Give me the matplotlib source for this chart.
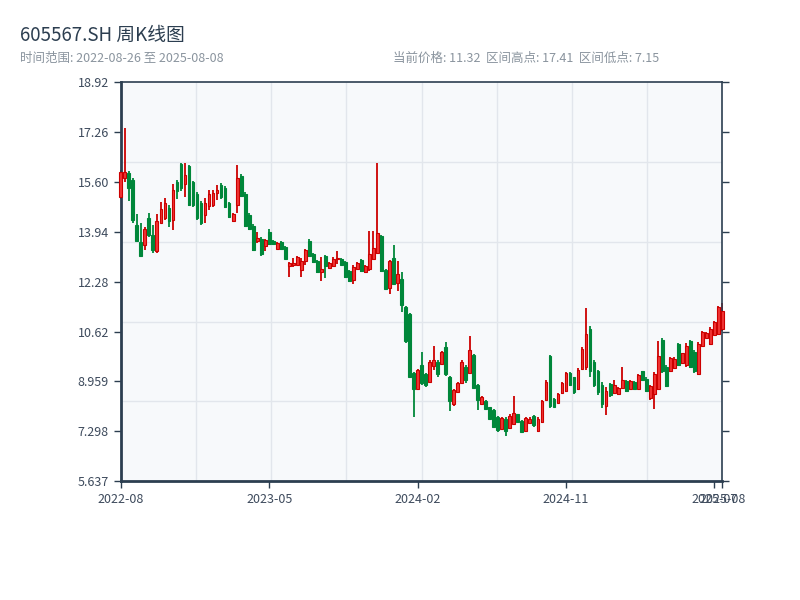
import numpy as np
import pandas as pd
import matplotlib
matplotlib.use("Agg")
import matplotlib.pyplot as plt

plt.rcParams["font.family"] = ["Noto Sans CJK SC", "DejaVu Sans"]

symbol = "605567.SH"

# weekly bars, Fridays; weeks with no trading (holidays) are left out
holiday_weeks = ["2022-10-07", "2023-01-27", "2023-10-06", "2024-02-16"]
dates = pd.date_range("2022-08-26", "2025-08-08", freq="W-FRI")
dates = dates[~dates.isin(pd.to_datetime(holiday_weeks))]

open_ = [15.10, 15.75, 15.89, 15.66, 14.16, 13.61, 13.50, 14.40, 13.83, 13.30,
         14.25, 14.40, 14.75, 14.35, 15.60, 16.20, 15.55, 16.15, 15.60, 15.20,
         14.90, 14.50, 14.80, 14.85, 15.25, 15.50, 15.40, 14.90, 14.30, 14.83,
         15.80, 15.20, 14.50, 14.15, 13.65, 13.70, 13.47, 13.95, 13.62, 13.38,
         13.60, 13.45, 12.80, 12.85, 12.85, 12.67, 12.97, 13.65, 13.20, 12.98,
         12.62, 13.15, 12.75, 12.80, 13.03, 13.05, 12.95, 12.65, 12.33, 12.72,
         13.00, 12.60, 12.69, 13.02, 13.23, 13.80, 12.68, 12.06, 13.08, 12.25,
         12.37, 11.45, 11.20, 9.25, 8.70, 9.50, 9.20, 8.95, 9.47, 9.60,
         9.55, 10.10, 9.10, 8.20, 8.60, 8.90, 9.45, 9.25, 9.85, 8.85,
         8.20, 8.32, 8.10, 8.00, 7.78, 7.38, 7.70, 7.40, 7.55, 7.86,
         7.65, 7.32, 7.58, 7.80, 7.30, 7.62, 8.35, 9.80, 8.38, 8.25,
         8.56, 8.65, 9.25, 9.10, 8.70, 9.36, 9.45, 10.70, 9.60, 9.30,
         8.85, 8.15, 8.88, 8.56, 8.55, 8.75, 8.98, 8.72, 8.95, 8.72,
         9.30, 9.05, 8.40, 8.55, 8.70, 10.35, 9.45, 9.30, 9.40, 10.20,
         9.56, 9.50, 10.30, 9.95, 9.20, 10.15, 10.42, 10.20, 10.52, 10.55,
         10.70]
high = [16.00, 17.41, 15.96, 15.74, 14.53, 14.22, 14.11, 14.56, 14.16, 14.55,
        14.94, 15.06, 14.83, 15.55, 15.66, 16.22, 16.22, 16.16, 15.63, 15.27,
        14.96, 15.07, 15.33, 15.33, 15.50, 15.56, 15.46, 14.94, 14.57, 16.16,
        15.86, 15.26, 14.56, 14.20, 13.93, 13.76, 13.71, 14.03, 13.66, 13.60,
        13.63, 13.48, 12.94, 13.06, 13.13, 13.08, 13.36, 13.70, 13.24, 13.00,
        13.10, 13.17, 12.93, 13.10, 13.30, 13.08, 12.97, 12.67, 12.83, 12.93,
        13.03, 12.83, 13.97, 13.97, 16.22, 13.85, 12.70, 13.00, 13.50, 12.97,
        12.61, 11.47, 11.23, 9.28, 9.39, 9.95, 9.24, 9.67, 10.14, 9.67,
        9.97, 10.28, 9.15, 8.70, 8.93, 9.67, 9.51, 10.47, 9.87, 8.87,
        8.47, 8.34, 8.12, 8.03, 7.81, 7.79, 7.76, 7.87, 8.47, 7.89,
        7.68, 7.78, 7.79, 7.84, 7.79, 8.34, 9.01, 9.84, 8.41, 8.58,
        8.95, 9.28, 9.28, 9.12, 9.40, 10.11, 11.39, 10.80, 9.68, 9.34,
        8.95, 8.78, 8.90, 9.00, 8.78, 9.43, 9.00, 9.00, 8.98, 9.21,
        9.32, 9.10, 8.84, 9.28, 10.31, 10.40, 9.51, 9.78, 9.76, 10.25,
        9.92, 10.23, 10.34, 10.00, 10.28, 10.65, 10.61, 10.76, 10.98, 11.48,
        11.56]
low = [15.05, 15.60, 14.97, 14.22, 13.61, 13.11, 13.35, 13.77, 13.24, 13.25,
       14.22, 14.33, 14.10, 14.00, 15.05, 15.30, 15.10, 14.80, 14.78, 14.35,
       14.16, 14.25, 14.66, 14.76, 14.99, 15.03, 14.73, 14.39, 14.27, 14.56,
       15.10, 14.10, 14.00, 13.31, 13.57, 13.14, 13.31, 13.50, 13.50, 13.37,
       13.33, 13.02, 12.44, 12.77, 12.83, 12.44, 12.83, 13.11, 12.91, 12.58,
       12.31, 12.41, 12.73, 12.77, 12.87, 12.83, 12.41, 12.26, 12.19, 12.70,
       12.61, 12.58, 12.64, 13.00, 13.20, 12.60, 12.00, 11.86, 12.20, 11.98,
       11.28, 10.23, 9.06, 7.79, 8.67, 8.84, 8.79, 8.92, 9.34, 9.12,
       9.53, 9.15, 7.99, 8.15, 8.59, 8.87, 8.92, 9.25, 8.70, 8.00,
       8.17, 8.03, 7.68, 7.40, 7.29, 7.34, 7.15, 7.36, 7.54, 7.60,
       7.25, 7.29, 7.57, 7.45, 7.28, 7.59, 8.34, 8.08, 8.10, 8.23,
       8.54, 8.62, 8.81, 8.54, 8.67, 9.34, 9.34, 9.10, 8.76, 8.51,
       8.08, 7.84, 8.44, 8.54, 8.51, 8.71, 8.62, 8.70, 8.67, 8.70,
       8.98, 8.62, 8.34, 8.03, 8.68, 9.25, 8.76, 9.28, 9.36, 9.47,
       9.54, 9.45, 9.40, 9.23, 9.17, 10.12, 10.39, 10.17, 10.50, 10.50,
       10.65]
close = [15.95, 15.93, 15.39, 14.33, 13.63, 13.15, 14.05, 13.85, 13.33, 14.30,
         14.70, 14.90, 14.30, 15.35, 15.30, 15.40, 15.85, 14.85, 14.85, 14.40,
         14.25, 14.90, 15.20, 15.25, 15.33, 15.10, 14.78, 14.42, 14.55, 15.73,
         15.15, 14.15, 14.05, 13.35, 13.75, 13.20, 13.68, 13.55, 13.54, 13.58,
         13.36, 13.05, 12.92, 12.90, 13.10, 12.97, 13.33, 13.15, 12.95, 12.60,
         12.70, 12.80, 12.90, 13.05, 13.08, 12.85, 12.45, 12.30, 12.78, 12.90,
         12.65, 12.80, 13.19, 13.40, 13.89, 12.65, 12.05, 12.98, 12.22, 12.54,
         11.50, 10.30, 9.10, 8.70, 9.35, 8.90, 8.85, 9.60, 9.67, 9.20,
         9.95, 9.20, 8.30, 8.68, 8.90, 9.60, 9.00, 10.00, 8.75, 8.35,
         8.45, 8.05, 7.72, 7.45, 7.35, 7.75, 7.30, 7.82, 7.90, 7.62,
         7.28, 7.75, 7.72, 7.50, 7.72, 8.30, 8.95, 8.15, 8.12, 8.55,
         8.90, 9.25, 8.85, 8.60, 9.35, 10.05, 10.55, 9.30, 8.85, 8.60,
         8.20, 8.65, 8.50, 8.85, 8.75, 9.00, 8.65, 8.98, 8.70, 9.18,
         9.00, 8.65, 8.80, 9.20, 9.80, 9.30, 8.80, 9.75, 9.70, 9.50,
         9.90, 10.15, 9.45, 9.30, 10.20, 10.60, 10.58, 10.70, 10.95, 11.45,
         11.32]

o = np.array(open_)
h = np.array(high)
l = np.array(low)
c = np.array(close)
n = len(c)
x = np.arange(n)

up_edge = "#cc0000"
up_face = "#f03434"
down_col = "#00873a"
dark = "#2c3e50"
grid_col = "#e2e6ec"

fig = plt.figure(figsize=(8, 6), dpi=100)
ax = fig.add_axes([0.151, 0.198, 0.752, 0.665])
ax.set_facecolor("#f7f9fb")

# background grid in axes fraction
for f in [0.2, 0.4, 0.6, 0.8]:
    ax.plot([0, 1], [f, f], transform=ax.transAxes, color=grid_col, lw=1, zorder=0)
for k in range(1, 8):
    ax.plot([k / 8, k / 8], [0, 1], transform=ax.transAxes, color=grid_col, lw=1, zorder=0)

up = c >= o
colors = np.where(up, up_edge, down_col)
ax.vlines(x, l, h, colors=colors, linewidth=1.3, zorder=2, clip_on=False)

bottom = np.minimum(o, c)
height = np.maximum(np.abs(c - o), 0.03)
ax.bar(x[up], height[up], bottom=bottom[up], width=0.7, color=up_face,
       edgecolor=up_edge, linewidth=0.8, zorder=3, clip_on=False)
ax.bar(x[~up], height[~up], bottom=bottom[~up], width=0.7, color=down_col,
       edgecolor=down_col, linewidth=0.8, zorder=3, clip_on=False)

# padding of the price range
pad = 0.1475 * (h.max() - l.min())
ylo, yhi = l.min() - pad + 0.0007, h.max() + pad + 0.0007
ax.set_ylim(ylo, yhi)
ax.set_xlim(0, n - 1)

yt = np.linspace(ylo, yhi, 9)
ax.set_yticks(yt)
ax.set_yticklabels(["{:#.4g}".format(v) for v in yt])

step = n // 4
xt = list(range(0, n, step)) + [n - 1]
ax.set_xticks(xt)
ax.set_xticklabels([dates[i].strftime("%Y-%m") for i in xt])

ax.tick_params(axis="both", colors=dark, labelcolor="#3d4a5c", labelsize=9,
               length=5, width=1)
ax.tick_params(axis="y", right=True)
for s in ax.spines.values():
    s.set_color(dark)
    s.set_linewidth(1.2)
ax.spines["left"].set_linewidth(2)
ax.spines["bottom"].set_linewidth(2)

fig.text(0.025, 1 - 35 / 600, f"{symbol} 周K线图", fontsize=13.5, color=dark, va="center")
fig.text(0.025, 1 - 58 / 600,
         f"时间范围: {dates[0]:%Y-%m-%d} 至 {dates[-1]:%Y-%m-%d}",
         fontsize=9, color="#8a949e", va="center")
fig.text(393 / 800, 1 - 58 / 600,
         f"当前价格: {c[-1]:.2f}  区间高点: {h.max():.2f}  区间低点: {l.min():.2f}",
         fontsize=9, color="#8a949e", va="center")

fig.savefig("out.png", dpi=100)
